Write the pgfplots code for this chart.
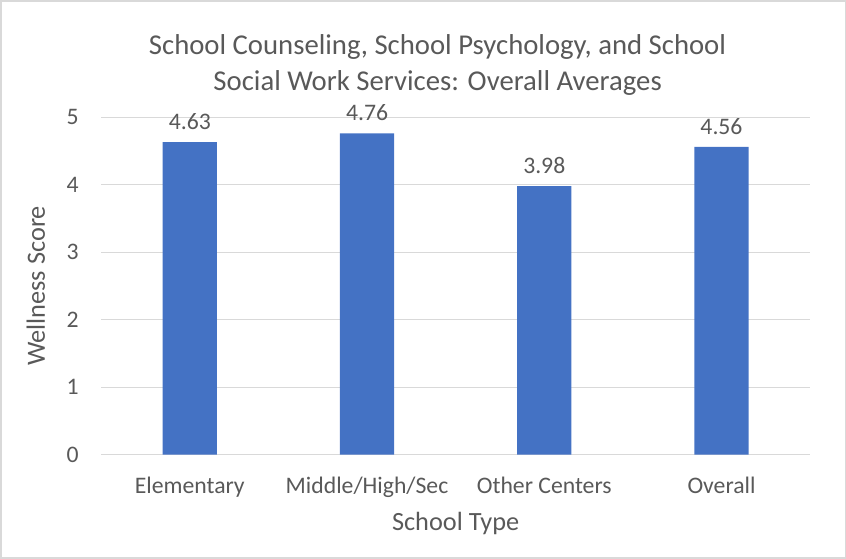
\documentclass[border=0pt]{standalone}
\usepackage{fontspec}
\setmainfont{Carlito}
\usepackage{pgfplots}
\pgfplotsset{compat=1.18}
\definecolor{barblue}{HTML}{4472C4}
\definecolor{txt}{HTML}{595959}
\definecolor{gridc}{HTML}{D9D9D9}
\begin{document}
\begin{tikzpicture}
\begin{axis}[
  scale only axis, width=353pt, height=168pt,
  xmin=-0.5, xmax=3.5, ymin=0, ymax=5,
  xtick={0,1,2,3},
  xticklabels={Elementary, Middle/High/Sec, Other Centers, Overall},
  ytick={0,1,2,3,4,5},
  ymajorgrids, grid style={gridc, line width=0.6pt},
  axis line style={draw=none}, major tick length=0pt,
  /pgf/number format/assume math mode=true,
  tick label style={font=\fontsize{11.8}{12}\selectfont, text=txt},
  yticklabel style={anchor=east, inner sep=0pt, xshift=-11pt},
  xticklabel style={anchor=north, inner sep=0pt, yshift=-11pt},
  xlabel={School Type}, ylabel={Wellness Score},
  label style={font=\fontsize{13.1}{14}\selectfont, text=txt},
  xlabel style={at={(axis description cs:0.5,0)}, anchor=center, yshift=-34.5pt},
  ylabel style={at={(axis description cs:0,0.5)}, anchor=center, rotate=0, yshift=32.5pt},
  ybar, bar width=27pt,
  nodes near coords,
  nodes near coords style={font=\fontsize{11.8}{12}\selectfont, text=txt,
    /pgf/number format/fixed, /pgf/number format/precision=2,
    /pgf/number format/fixed zerofill},
  every node near coord/.append style={anchor=south, inner sep=0pt, yshift=6pt},
]
\addplot[fill=barblue, draw=none] coordinates {(0,4.63) (1,4.76) (2,3.98) (3,4.56)};
\end{axis}
\node[align=center, font=\fontsize{14.3}{18}\selectfont, text=txt]
  at ([xshift=167.5pt, yshift=26pt]current axis.north west)
  {School Counseling, School Psychology, and School\\Social Work Services: Overall Averages};
\draw[gridc, line width=0.75pt] ([shift={(-50pt,-51.5pt)}]current axis.south west)
  rectangle ([shift={(17.5pt,58pt)}]current axis.north east);
\end{tikzpicture}
\end{document}
